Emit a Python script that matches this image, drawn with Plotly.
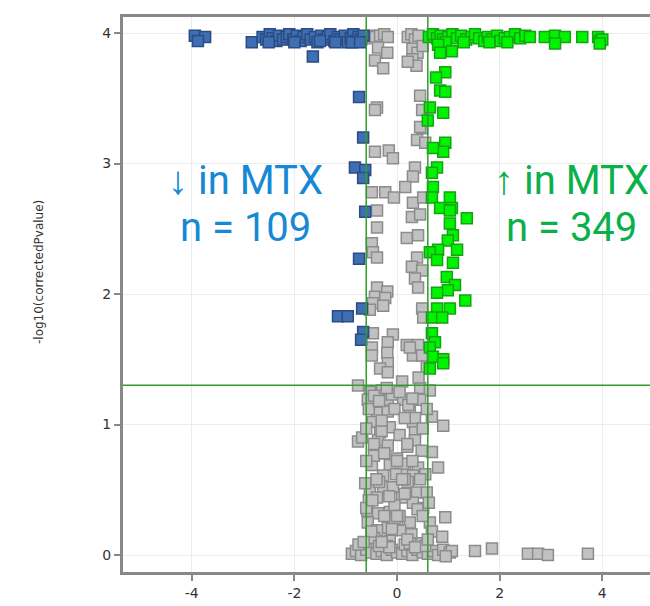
import plotly.graph_objects as go

# ---------------- data ----------------
down_x = [-3.94, -3.74, -3.88, -2.83, -2.62, -2.55, -2.48, -2.42, -2.35, -2.3, -2.22, -2.15, -2.1,
          -2.02, -1.95, -1.88, -1.82, -1.75, -1.68, -1.6, -1.55, -1.48, -1.42, -1.35, -1.3, -1.22,
          -1.15, -1.1, -1.02, -0.96, -0.9, -0.85, -0.8, -0.75, -0.7, -0.65, -2.5, -2.0, -1.5,
          -1.2, -0.88, -0.72, -1.64, -0.74, -0.66, -0.82, -0.62, -0.66, -0.62, -0.74, -1.15,
          -0.96, -0.68, -0.66, -0.70]
down_y = [3.98, 3.97, 3.94, 3.93, 3.97, 3.95, 3.99, 3.96, 3.94, 3.98, 3.95, 3.97, 3.99,
          3.95, 3.98, 3.94, 3.97, 3.99, 3.95, 3.97, 3.93, 3.98, 3.95, 3.97, 3.99, 3.94,
          3.97, 3.95, 3.98, 3.93, 3.96, 3.99, 3.94, 3.97, 3.95, 3.98, 3.93, 3.93, 3.94,
          3.93, 3.93, 3.93, 3.82, 3.51, 3.20, 2.97, 2.95, 2.89, 2.63, 2.27, 1.83,
          1.83, 1.89, 1.71, 1.65]

up_x = [0.62, 0.7, 0.78, 0.85, 0.9, 1.0, 1.08, 1.17, 1.25, 1.35, 1.45, 1.52, 1.6, 1.7, 1.77,
        1.85, 1.95, 2.01, 2.1, 2.2, 2.3, 2.4, 2.5, 2.59, 2.88, 3.08, 3.27, 3.61, 3.92, 3.96,
        4.0, 3.95, 0.95, 1.3, 1.8, 2.15, 3.08, 0.80, 0.84, 1.07, 0.94, 0.76, 0.84, 0.94,
        0.64, 0.90, 0.60, 0.94, 0.90, 0.70, 0.78, 0.68, 0.70, 0.68, 1.03, 0.84, 1.07, 1.36,
        1.03, 1.03, 1.09, 0.99, 0.80, 1.17, 0.64, 0.78, 1.09, 0.97, 1.13, 0.99, 0.78, 1.33,
        0.78, 1.03, 0.68, 0.88, 0.68, 0.74, 0.64, 0.70, 0.90, 0.90, 0.64]
up_y = [3.97, 3.99, 3.96, 3.98, 3.95, 3.97, 3.99, 3.96, 3.98, 3.95, 3.97, 3.99, 3.96, 3.94, 3.97,
        3.95, 3.98, 3.94, 3.96, 3.97, 3.99, 3.96, 3.98, 3.97, 3.97, 3.98, 3.97, 3.97, 3.97, 3.94,
        3.95, 3.92, 3.93, 3.93, 3.93, 3.93, 3.92, 3.91, 3.85, 3.86, 3.70, 3.66, 3.56, 3.55,
        3.43, 3.39, 3.33, 3.16, 3.09, 3.12, 2.97, 2.93, 2.82, 2.74, 2.74, 2.66, 2.66, 2.58,
        2.64, 2.54, 2.45, 2.41, 2.34, 2.34, 2.32, 2.26, 2.24, 2.13, 2.07, 2.03, 2.01, 1.95,
        1.89, 1.89, 1.82, 1.82, 1.70, 1.63, 1.59, 1.52, 1.50, 1.47, 1.43]

ns_x = [-0.62, -0.5, -0.42, -0.33, -0.25, -0.18, -0.37, -0.19, -0.43, -0.27, 0.21, 0.28, 0.35,
        0.42, 0.30, 0.40, 0.30, 0.38, 0.21, 0.45, -0.39, 0.49, 0.50, 0.49, -0.43, 0.45, 0.39,
        0.55, -0.43, -0.16, -0.08, 0.35, 0.31, 0.16, -0.49, -0.23, -0.06, 0.31, 0.51, -0.39,
        0.29, 0.45, -0.39, 0.19, 0.41, -0.49, -0.47, -0.39, 0.39, 0.29, 0.49, 0.35, 0.41,
        -0.39, -0.19, -0.43, -0.23, -0.47, -0.27, -0.53, 0.49, 0.51, -0.47, -0.08, -0.18,
        -0.49, 0.19, 0.41, -0.19, 0.31, 0.49, -0.49, -0.18, 0.25, 0.58, -0.33, -0.18, -0.76,
        -0.53, -0.29, 0.10, 0.45, 0.64, -0.57, -0.18, 0.12, 0.45, -0.39, -0.18, 0.25, 0.68,
        0.90, -0.47, -0.33, -0.14, 0.31, 0.35, -0.76, -0.68, -0.37, -0.18, 0.35, 0.68, -0.49,
        -0.14, 0.16, 0.41, 0.80, -0.27, 0.31, -0.53, -0.27, -0.08, 0.21, 0.39, 0.58, -0.39,
        0.10, -0.58, -0.37, -0.14, 0.31, 0.51, 0.94, -0.57, -0.18, 0.25, 0.64, -0.39, 0.06,
        -0.14, 0.68, 0.88, 0.45, -0.25, 0.0, 0.15, -0.45, -0.05, 0.22, -0.3, 0.05, -0.55,
        0.35, -0.1, 0.2, -0.35, 0.0, -0.2, 0.12, 0.42, -0.6, -0.45, 0.28, 0.55, -0.05,
        -0.88, -0.8, -0.7, -0.6, -0.5, -0.4, -0.3, -0.2, -0.1, 0.0, 0.1, 0.2, 0.3, 0.4,
        0.5, 0.6, 0.7, 0.8, 0.9, 1.03, 1.07, 0.95, -0.75, -0.35, 0.15, 0.55, 0.25, -0.15,
        1.52, 1.85, 2.55, 2.75, 2.94, 3.72,
        -0.45, -0.2, 0.05, 0.3, -0.55, -0.05, 0.15, -0.3, 0.5, -0.6, 0.05, -0.45, 0.2,
        0.48, -0.25, 0.0, -0.6, 0.3, -0.4, 0.45, -0.02, 0.15, -0.15, -0.48, 0.4, -0.25,
        0.0, 0.5, -0.5, 0.2, -0.3, 0.6, -0.65, 0.35, -0.1, 0.1, -0.35, 0.58, -0.62, 0.62]
ns_y = [3.96, 3.98, 3.97, 3.98, 3.99, 3.97, 3.89, 3.85, 3.79, 3.73, 3.97, 3.99, 3.95,
        3.98, 3.88, 3.85, 3.80, 3.75, 3.78, 3.52, 3.43, 3.41, 3.90, 3.27, 3.41, 3.28, 3.18,
        3.16, 3.09, 3.10, 3.04, 2.97, 2.90, 2.82, 2.78, 2.78, 2.74, 2.70, 2.74, 2.64,
        2.59, 2.61, 2.51, 2.43, 2.45, 2.39, 2.32, 2.28, 2.28, 2.21, 2.18, 2.12, 2.05,
        2.05, 2.02, 1.98, 1.97, 1.93, 1.91, 1.88, 1.89, 1.82, 1.70, 1.69, 1.63,
        1.59, 1.61, 1.61, 1.55, 1.53, 1.53, 1.53, 1.47, 1.59, 1.44, 1.43, 1.40, 1.30,
        1.25, 1.26, 1.33, 1.28, 1.26, 1.19, 1.19, 1.19, 1.19, 1.09, 1.10, 1.11, 1.06,
        0.99, 1.02, 0.94, 0.98, 1.02, 0.94, 0.87, 0.90, 0.88, 0.84, 0.88, 0.79, 0.69,
        0.69, 0.65, 0.67, 0.67, 0.61, 0.61, 0.50, 0.52, 0.52, 0.56, 0.48, 0.48, 0.44,
        0.44, 0.34, 0.32, 0.33, 0.40, 0.36, 0.29, 0.25, 0.21, 0.25, 0.25, 0.19, 0.19,
        0.11, 0.18, 0.14, 0.09, 0.78, 0.74, 0.58, 0.76, 0.38, 1.15, 0.95, 0.30, 0.42,
        1.05, 1.23, 0.83, 0.56, 0.27, 0.07, 0.70, 1.36, 0.36, 0.13, 0.16, 0.62, 0.28,
        0.01, 0.03, 0.0, 0.04, 0.02, 0.01, 0.03, 0.0, 0.04, 0.02, 0.01, 0.03, 0.0, 0.04,
        0.02, 0.01, 0.03, 0.0, 0.04, 0.02, 0.03, -0.01, 0.08, 0.07, 0.08, 0.07, 0.09, 0.06,
        0.03, 0.05, 0.01, 0.01, 0.0, 0.01,
        1.22, 1.28, 1.25, 1.20, 1.12, 1.12, 1.05, 1.03, 0.97, 0.97, 0.92, 0.85, 0.85,
        0.80, 0.78, 0.72, 0.72, 0.72, 0.58, 0.58, 0.62, 0.47, 0.45, 0.42, 0.35, 0.30,
        0.30, 0.30, 0.18, 0.12, 0.10, 0.12, 0.10, 0.06, 0.20, 0.58, 1.18, 1.12, 0.55, 0.40]

fc_cut = 0.6      # |log2 fold change| threshold
p_cut = 1.301     # -log10(0.05)
x_ticks = [-4, -2, 0, 2, 4]
x_tick_text = ["-4", "-2", "0", "2", "4"]
y_ticks = [0, 1, 2, 3, 4]
label_down = ["↓ in MTX", "n = 109"]
label_up = ["↑ in MTX", "n = 349"]

# ---------------- figure ----------------
fig = go.Figure()
fig.add_trace(go.Scatter(x=ns_x, y=ns_y, mode="markers", name="ns",
                         marker=dict(symbol="square", size=11, color="#c1c1c1",
                                     line=dict(color="#8c8c8c", width=1.5))))
fig.add_trace(go.Scatter(x=down_x, y=down_y, mode="markers", name="down",
                         marker=dict(symbol="square", size=11, color="#3f6eb2",
                                     line=dict(color="#2a4c82", width=1.5))))
fig.add_trace(go.Scatter(x=up_x, y=up_y, mode="markers", name="up",
                         marker=dict(symbol="square", size=11, color="#00f400",
                                     line=dict(color="#13a313", width=1.5))))

line_col = "#2e9e2e"
for xv in (-fc_cut, fc_cut):
    fig.add_shape(type="line", xref="x", yref="paper", x0=xv, x1=xv, y0=0, y1=1,
                  line=dict(color=line_col, width=1.5))
fig.add_shape(type="line", xref="paper", yref="y", x0=0, x1=1, y0=p_cut, y1=p_cut,
              line=dict(color=line_col, width=1.5))

txt_font = "Liberation Sans Narrow, Arial Narrow, Roboto, sans-serif"
for (lbl, cx, col) in ((label_down, 0.232, "#1689d6"), (label_up, 0.851, "#0bb04a")):
    for i, t in enumerate(lbl):
        fig.add_annotation(text=t, xref="paper", yref="paper", x=cx, y=[0.706, 0.620][i],
                           showarrow=False, xanchor="center", yanchor="middle",
                           font=dict(family=txt_font, size=40, color=col))

fig.add_annotation(text="-log10(correctedPvalue)", xref="paper", yref="paper",
                   x=-0.158, y=0.54, textangle=-90, showarrow=False,
                   xanchor="center", yanchor="middle",
                   font=dict(family="DejaVu Sans", size=12, color="#333333"))

axis_col = "#888888"
fig.update_xaxes(range=[-5.34, 4.93], tickvals=x_ticks, ticktext=x_tick_text,
                 showline=True, linecolor=axis_col, linewidth=3, mirror=True,
                 ticks="outside", ticklen=6, tickwidth=2, tickcolor=axis_col,
                 showgrid=True, gridcolor="#ececec", gridwidth=1, zeroline=False,
                 tickfont=dict(family="DejaVu Sans", size=14, color="#333333"))
fig.update_yaxes(range=[-0.13, 4.123], tickvals=y_ticks,
                 showline=True, linecolor=axis_col, linewidth=3, mirror=False,
                 ticks="outside", ticklen=6, tickwidth=2, tickcolor=axis_col,
                 showgrid=True, gridcolor="#ececec", gridwidth=1, zeroline=False,
                 tickfont=dict(family="DejaVu Sans", size=14, color="#333333"))
fig.update_layout(width=650, height=606, margin=dict(l=123, r=0, t=17, b=34),
                  plot_bgcolor="white", paper_bgcolor="white", showlegend=False)

fig.write_html("out.html", config={"displayModeBar": False},
               post_script="document.documentElement.style.margin='0';"
                           "document.body.style.margin='0';"
                           "document.body.style.overflow='hidden';")
